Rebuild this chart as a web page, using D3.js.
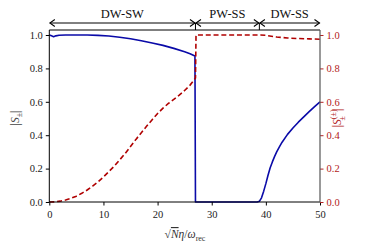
<!DOCTYPE html>
<html><head><meta charset="utf-8">
<script src="https://cdn.jsdelivr.net/npm/d3@7/dist/d3.min.js"></script>
<style>
body{margin:0;background:#fff;}
text{font-family:"Liberation Serif","DejaVu Serif",serif;}
</style></head>
<body><svg id="c" width="374" height="249"></svg>
<script>
// ---- data ----
const blueX = [0,0.4,0.8,1.2,1.8,3,5,7,9,11,13,15,17,19,21,23,25,26,26.9,27,30,35,38.4,38.8,39.2,39.6,40,40.4,40.8,41.2,41.6,42,42.5,43,44,45,46,47,48,49,50];
const blueY = [1.0,0.995,0.99,0.995,0.999,1.0,1.0,1.0,0.998,0.994,0.987,0.978,0.966,0.952,0.938,0.92,0.9,0.888,0.874,0,0,0,0,0.004,0.025,0.065,0.11,0.16,0.205,0.24,0.272,0.3,0.33,0.358,0.405,0.443,0.478,0.51,0.541,0.571,0.6];
const redX = [0,1,2,3,4,5,6,7,8,9,10,11,12,13,14,15,16,17,18,19,20,21,22,23,24,25,26,27,27.1,30,35,39,40,41,42,44,46,48,50];
const redY = [0,0.001,0.005,0.012,0.022,0.035,0.052,0.072,0.095,0.12,0.15,0.182,0.215,0.252,0.29,0.332,0.375,0.415,0.455,0.493,0.53,0.562,0.59,0.615,0.64,0.668,0.70,0.742,1.0,1.0,1.0,1.0,0.998,0.993,0.988,0.982,0.979,0.977,0.975];
const xTicks = [0,10,20,30,40,50];
const yTicks = [0,0.2,0.4,0.6,0.8,1.0];
const regions = [{label:"DW-SW", x0:0, x1:27}, {label:"PW-SS", x0:27, x1:38.8}, {label:"DW-SS", x0:38.8, x1:50}];

const svg = d3.select("#c");
const L=49.3, R=320, T=30, B=202;
const x = d3.scaleLinear().domain([0,50]).range([L,R]);
const y = d3.scaleLinear().domain([0,1.03]).range([B,T]);
const blue="#0a0aa8", red="#b00000", redAx="#b22222";

// curves
const line = d3.line().x(d=>x(d[0])).y(d=>y(d[1]));
svg.append("path").datum(blueX.map((v,i)=>[v,blueY[i]])).attr("d",line)
  .attr("fill","none").attr("stroke",blue).attr("stroke-width",1.6).attr("stroke-linejoin","round");
svg.append("path").datum(redX.map((v,i)=>[v,redY[i]])).attr("d",line)
  .attr("fill","none").attr("stroke",red).attr("stroke-width",1.6).attr("stroke-dasharray","5,2.8");

// axes
const fs = "10.5px";
const gx = svg.append("g").attr("transform",`translate(0,${B})`)
  .call(d3.axisBottom(x).tickValues(xTicks).tickFormat(d3.format("d")).tickSizeOuter(0).tickSize(3.5));
const gl = svg.append("g").attr("transform",`translate(${L},0)`)
  .call(d3.axisLeft(y).tickValues(yTicks).tickFormat(d3.format(".1f")).tickSizeOuter(0).tickSize(3.5));
const gr = svg.append("g").attr("transform",`translate(${R},0)`)
  .call(d3.axisRight(y).tickValues(yTicks).tickFormat(d3.format(".1f")).tickSizeOuter(0).tickSize(3.5));
[gx,gl,gr].forEach(g=>{g.selectAll("text").style("font-size",fs).attr("fill","#222"); g.select(".domain").remove();});
gx.selectAll("text").attr("dy","0.95em");
gr.selectAll("line").attr("stroke",redAx);
gr.selectAll("text").attr("fill",redAx);
// frame
svg.append("line").attr("x1",L).attr("x2",R).attr("y1",T).attr("y2",T).attr("stroke","#000").attr("stroke-width",1);
svg.append("line").attr("x1",L).attr("x2",R).attr("y1",B).attr("y2",B).attr("stroke","#000").attr("stroke-width",1);
svg.append("line").attr("x1",L).attr("x2",L).attr("y1",T).attr("y2",B).attr("stroke","#000").attr("stroke-width",1);
svg.append("line").attr("x1",R).attr("x2",R).attr("y1",T).attr("y2",B).attr("stroke","#555").attr("stroke-width",1.2);

// region arrows
const defs = svg.append("defs");
["s","e"].forEach(k=>{
  defs.append("marker").attr("id","m"+k).attr("viewBox","-6 -4 7 8").attr("markerWidth",7).attr("markerHeight",8)
    .attr("refX",0).attr("refY",0).attr("orient","auto-start-reverse").attr("markerUnits","userSpaceOnUse")
    .append("path").attr("d","M-5,-3.5 L0,0 L-5,3.5").attr("fill","none").attr("stroke","#000").attr("stroke-width",1.1);
});
const ay = 23;
regions.forEach(r=>{
  svg.append("line").attr("x1",x(r.x0)+0.5).attr("x2",x(r.x1)-0.5).attr("y1",ay).attr("y2",ay)
    .attr("stroke","#000").attr("stroke-width",1).attr("marker-start","url(#ms)").attr("marker-end","url(#me)");
  svg.append("text").attr("x",(x(r.x0)+x(r.x1))/2).attr("y",18).attr("text-anchor","middle")
    .style("font-size","12.5px").attr("fill","#111").text(r.label);
});
[27,38.8].forEach(v=>svg.append("line").attr("x1",x(v)).attr("x2",x(v)).attr("y1",ay).attr("y2",T).attr("stroke","#000").attr("stroke-width",1));

// axis labels
const lt = svg.append("text").attr("transform","translate(19,118) rotate(-90)").attr("text-anchor","middle")
  .style("font-size","11.5px").attr("fill","#444");
lt.append("tspan").text("|");
lt.append("tspan").attr("font-style","italic").text("S");
lt.append("tspan").attr("dy",3).style("font-size","8px").text("±");
lt.append("tspan").attr("dy",-3).text("|");

const rt = svg.append("text").attr("transform","translate(341,118) rotate(-90)").attr("text-anchor","middle")
  .style("font-size","11.5px").attr("fill",redAx);
rt.append("tspan").text("|");
rt.append("tspan").attr("font-style","italic").text("S");
rt.append("tspan").attr("dy",-5).style("font-size","8px").text("(±)");
rt.append("tspan").attr("dx",-11).attr("dy",9).style("font-size","8px").text("±");
rt.append("tspan").attr("dx",5).attr("dy",-4).text("|");

const xt = svg.append("text").attr("x",185).attr("y",238).attr("text-anchor","middle")
  .style("font-size","11.5px").attr("fill","#333");
xt.append("tspan").text("√");
xt.append("tspan").attr("font-style","italic").style("text-decoration","overline").text("N");
xt.append("tspan").attr("font-style","italic").text("η");
xt.append("tspan").text("/");
xt.append("tspan").attr("font-style","italic").text("ω");
xt.append("tspan").attr("dy",2.5).style("font-size","8px").text("rec");
</script></body></html>
